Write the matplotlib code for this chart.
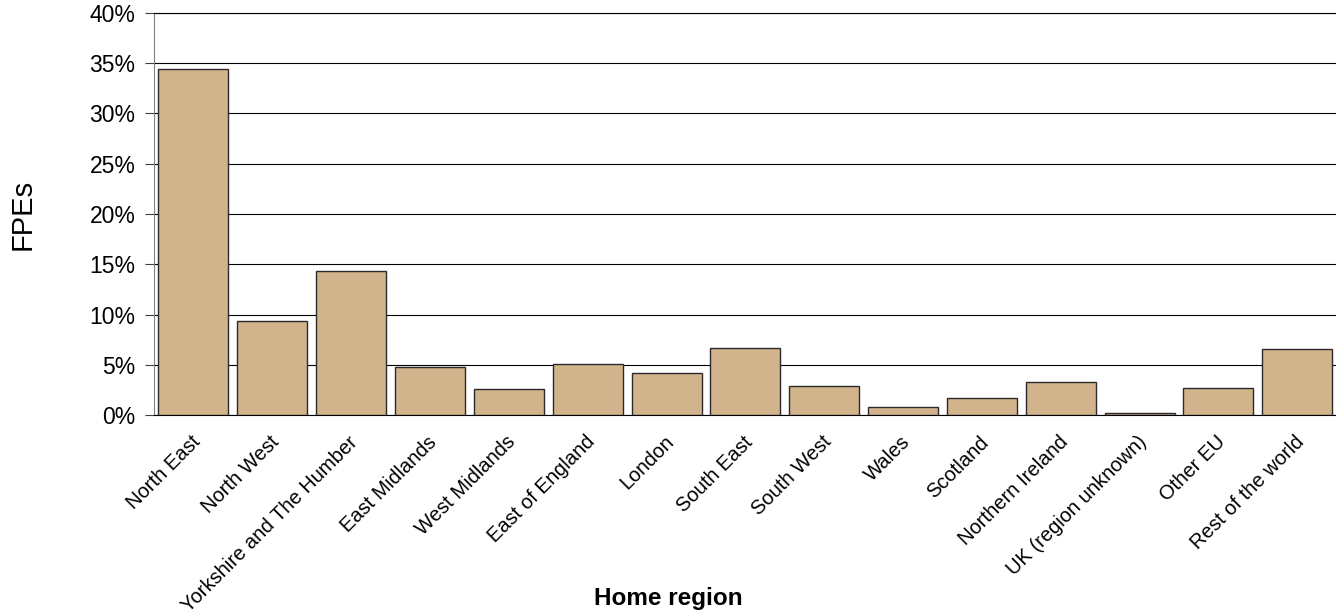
import matplotlib
matplotlib.use("Agg")
import matplotlib.pyplot as plt
import matplotlib.transforms as mtransforms
from matplotlib.ticker import PercentFormatter

plt.rcParams['font.family'] = ['Liberation Sans', 'DejaVu Sans']

regions = ["North East", "North West", "Yorkshire and The Humber", "East Midlands",
           "West Midlands", "East of England", "London", "South East", "South West",
           "Wales", "Scotland", "Northern Ireland", "UK (region unknown)", "Other EU",
           "Rest of the world"]
shares = [34.4, 9.4, 14.3, 4.85, 2.67, 5.07, 4.18, 6.75, 2.9,
          0.89, 1.72, 3.3, 0.2, 2.73, 6.58]
yticks = [0, 5, 10, 15, 20, 25, 30, 35, 40]

fig = plt.figure(figsize=(13.36, 6.14), dpi=100)
ax = fig.add_axes([0.1153, 0.3233, 0.8852, 0.656])

x = list(range(len(regions)))
ax.bar(x, shares, width=0.888, color='#D2B48C', edgecolor='#2a2a2a', linewidth=1.0, zorder=3)

ax.set_xlim(-0.5, len(regions) - 0.5)
ax.set_ylim(0, 40)
ax.set_yticks(yticks)
ax.yaxis.set_major_formatter(PercentFormatter(decimals=0))
ax.yaxis.grid(True, color='black', linewidth=0.8, zorder=0)
ax.set_axisbelow(True)

ax.spines['right'].set_visible(False)
ax.spines['top'].set_color('black')
ax.spines['top'].set_linewidth(0.8)
ax.spines['left'].set_color('#808080')
ax.spines['left'].set_linewidth(0.8)
ax.spines['bottom'].set_color('black')
ax.spines['bottom'].set_linewidth(0.8)

ax.tick_params(axis='y', length=6.5, width=0.8, color='#404040', pad=7, labelsize=16.5)
ax.tick_params(axis='x', length=0, pad=17)
ax.set_xticks(x)
ax.set_xticklabels(regions, rotation=45, ha='right', va='center', rotation_mode='anchor', fontsize=14.5)
# nudge the rotated labels a little to the right
shift = mtransforms.ScaledTranslation(4 / 100, 0, fig.dpi_scale_trans)
for lbl in ax.get_xticklabels():
    lbl.set_transform(lbl.get_transform() + shift)

ax.set_ylabel("FPEs", fontsize=21, labelpad=38)
fig.text(0.5, 0.0147, "Home region", ha='center', va='baseline', fontsize=17.5, fontweight='bold')

fig.savefig("out.png", dpi=100)
